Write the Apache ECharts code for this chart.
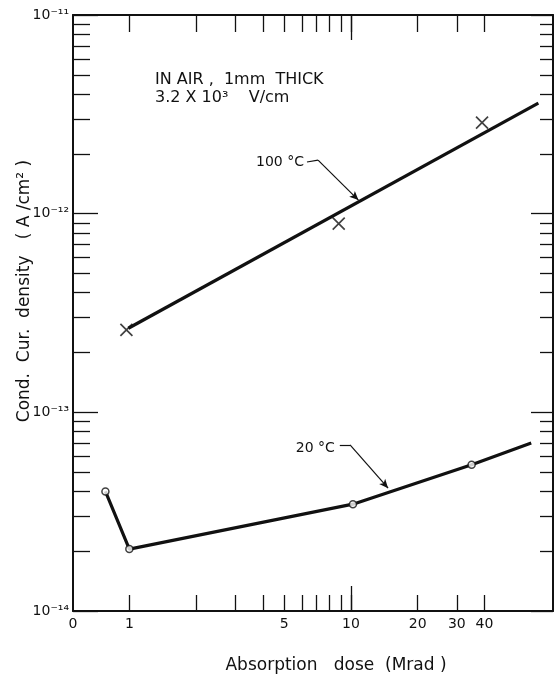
<!DOCTYPE html>
<html>
<head>
<meta charset="utf-8">
<script src="https://cdn.jsdelivr.net/npm/echarts@6/dist/echarts.min.js"></script>
<style>
html,body{margin:0;padding:0;background:#fff;}
#chart{width:556px;height:680px;}
</style>
</head>
<body>
<div id="chart"></div>
<script>
// axis ranges (log scales)
var doseMin = 0.557, doseMax = 81.5;
var densityMin = 1e-14, densityMax = 1e-11;

// tick marks / tick labels
var xTickValues = [1, 2, 3, 4, 5, 6, 7, 8, 9, 10, 20, 30, 40];
var xLongTicks = [10];
var xLabelValues = [doseMin, 1, 5, 10, 20, 30, 40];
var xLabelTexts = ['0', '1', '5', '10', '20', '30', '40'];
var yDecades = [1e-14, 1e-13, 1e-12, 1e-11];
var yLabelTexts = ['10⁻¹⁴', '10⁻¹³', '10⁻¹²', '10⁻¹¹'];
var yMantissas = [2, 3, 4, 5, 6, 7, 8, 9];

// 100 °C : fitted line and measured points (x)
var hotLineDose = [0.99, 70];
var hotLineDensity = [2.65e-13, 3.6e-12];
var hotDose = [0.97, 8.8, 39];
var hotDensity = [2.6e-13, 8.9e-13, 2.87e-12];

// 20 °C : curve and measured points (o)
var coldLineDose = [0.78, 1, 10.2, 35, 65];
var coldLineDensity = [4.0e-14, 2.05e-14, 3.45e-14, 5.45e-14, 7.0e-14];
var coldDose = [0.78, 1, 10.2, 35];
var coldDensity = [4.0e-14, 2.05e-14, 3.45e-14, 5.45e-14];

// leader lines of the curve labels [dose, density]
var hotLeader = [[6.33, 1.82e-12], [7.1, 1.86e-12], [10.8, 1.17e-12]];
var coldLeader = [[8.9, 6.85e-14], [9.9, 6.85e-14], [14.7, 4.15e-14]];

var yMinorTicks = [];
for (var d = 0; d < yDecades.length - 1; d++) {
	for (var m = 0; m < yMantissas.length; m++) {
		yMinorTicks.push(yMantissas[m] * yDecades[d]);
	}
}

function pairs(xs, ys) {
	var out = [];
	for (var i = 0; i < xs.length; i++) out.push([xs[i], ys[i]]);
	return out;
}

var ink = '#111';
var font = 'DejaVu Sans';

function xAxisDef(pos, ticks, len, withLine, withLabel) {
	return {
		type: 'log', position: pos, min: doseMin, max: doseMax, offset: 0,
		axisLine: {show: withLine, lineStyle: {color: ink, width: 2}},
		axisTick: {show: true, inside: true, length: len, customValues: ticks, lineStyle: {color: ink, width: 1.3}},
		minorTick: {show: false},
		splitLine: {show: false},
		axisLabel: {
			show: withLabel, customValues: xLabelValues, margin: 6,
			color: ink, fontFamily: font, fontSize: 14,
			formatter: function (v) {
				for (var i = 0; i < xLabelValues.length; i++) {
					if (Math.abs(Math.log10(v) - Math.log10(xLabelValues[i])) < 1e-6) return xLabelTexts[i];
				}
				return '';
			}
		}
	};
}

function yAxisDef(pos, ticks, len, withLine, withLabel) {
	return {
		type: 'log', position: pos, min: densityMin, max: densityMax, offset: 0,
		axisLine: {show: withLine, lineStyle: {color: ink, width: 2}},
		axisTick: {show: true, inside: true, length: len, customValues: ticks, lineStyle: {color: ink, width: 1.3}},
		minorTick: {show: false},
		splitLine: {show: false},
		axisLabel: {
			show: withLabel, customValues: yDecades, margin: 4,
			color: ink, fontFamily: font, fontSize: 14,
			formatter: function (v) {
				var e = Math.round(Math.log10(v));
				for (var i = 0; i < yDecades.length; i++) {
					if (Math.round(Math.log10(yDecades[i])) === e) return yLabelTexts[i];
				}
				return '';
			}
		}
	};
}

var chart = echarts.init(document.getElementById('chart'));
chart.setOption({
	backgroundColor: '#fff',
	animation: false,
	grid: {left: 73, right: 3, top: 15, bottom: 69},
	xAxis: [
		xAxisDef('bottom', xTickValues, 16, true, true),
		xAxisDef('bottom', xLongTicks, 25, false, false),
		xAxisDef('top', xTickValues, 17, true, false),
		xAxisDef('top', xLongTicks, 25, false, false)
	],
	yAxis: [
		yAxisDef('left', yMinorTicks, 17, true, true),
		yAxisDef('left', yDecades, 25, false, false),
		yAxisDef('right', yMinorTicks, 13, true, false),
		yAxisDef('right', yDecades, 22, false, false)
	],
	graphic: [
		{type: 'text', x: 155, y: 80, style: {text: 'IN AIR ,  1mm  THICK', font: '16px "DejaVu Sans"', fill: ink, verticalAlign: 'middle'}},
		{type: 'text', x: 155, y: 98, style: {text: '3.2 X 10³    V/cm', font: '16px "DejaVu Sans"', fill: ink, verticalAlign: 'middle'}},
		{type: 'text', x: 25, y: 291, rotation: Math.PI / 2, style: {text: 'Cond.  Cur.  density   ( A /cm² )', font: '17px "DejaVu Sans"', fill: ink, align: 'center', verticalAlign: 'middle'}},
		{type: 'text', x: 336, y: 666, style: {text: 'Absorption   dose  (Mrad )', font: '17px "DejaVu Sans"', fill: ink, align: 'center', verticalAlign: 'middle'}}
	],
	series: [
		{
			name: '100 °C', type: 'line', xAxisIndex: 0, yAxisIndex: 0,
			data: pairs(hotLineDose, hotLineDensity),
			showSymbol: false, lineStyle: {color: ink, width: 3.2},
			markLine: {
				silent: true, symbol: ['none', 'arrow'], symbolSize: [6, 9],
				lineStyle: {color: ink, width: 1.2, type: 'solid'}, label: {show: false},
				data: [
					[{coord: hotLeader[0], symbol: 'none'}, {coord: hotLeader[1], symbol: 'none'}],
					[{coord: hotLeader[1]}, {coord: hotLeader[2]}]
				]
			},
			markPoint: {
				silent: true, symbol: 'circle', symbolSize: 0,
				label: {show: true, position: 'left', distance: 3, color: ink, fontFamily: font, fontSize: 14, formatter: '100 °C'},
				data: [{coord: hotLeader[0]}]
			}
		},
		{
			name: '100 °C points', type: 'scatter', xAxisIndex: 0, yAxisIndex: 0,
			data: pairs(hotDose, hotDensity),
			symbol: 'path://M0,0L10,10M10,0L0,10', symbolSize: 12,
			itemStyle: {color: 'none', borderColor: ink, borderWidth: 1.7}
		},
		{
			name: '20 °C', type: 'line', xAxisIndex: 0, yAxisIndex: 0,
			data: pairs(coldLineDose, coldLineDensity),
			showSymbol: false, lineStyle: {color: ink, width: 3.2},
			markLine: {
				silent: true, symbol: ['none', 'arrow'], symbolSize: [6, 9],
				lineStyle: {color: ink, width: 1.2, type: 'solid'}, label: {show: false},
				data: [
					[{coord: coldLeader[0], symbol: 'none'}, {coord: coldLeader[1], symbol: 'none'}],
					[{coord: coldLeader[1]}, {coord: coldLeader[2]}]
				]
			},
			markPoint: {
				silent: true, symbol: 'circle', symbolSize: 0,
				label: {show: true, position: 'left', distance: 5, offset: [0, 3], color: ink, fontFamily: font, fontSize: 14, formatter: '20 °C'},
				data: [{coord: coldLeader[0]}]
			}
		},
		{
			name: '20 °C points', type: 'scatter', xAxisIndex: 0, yAxisIndex: 0,
			data: pairs(coldDose, coldDensity),
			symbol: 'circle', symbolSize: 7,
			itemStyle: {color: '#fff', borderColor: ink, borderWidth: 1.5},
			z: 5
		}
	]
});
</script>
</body>
</html>
